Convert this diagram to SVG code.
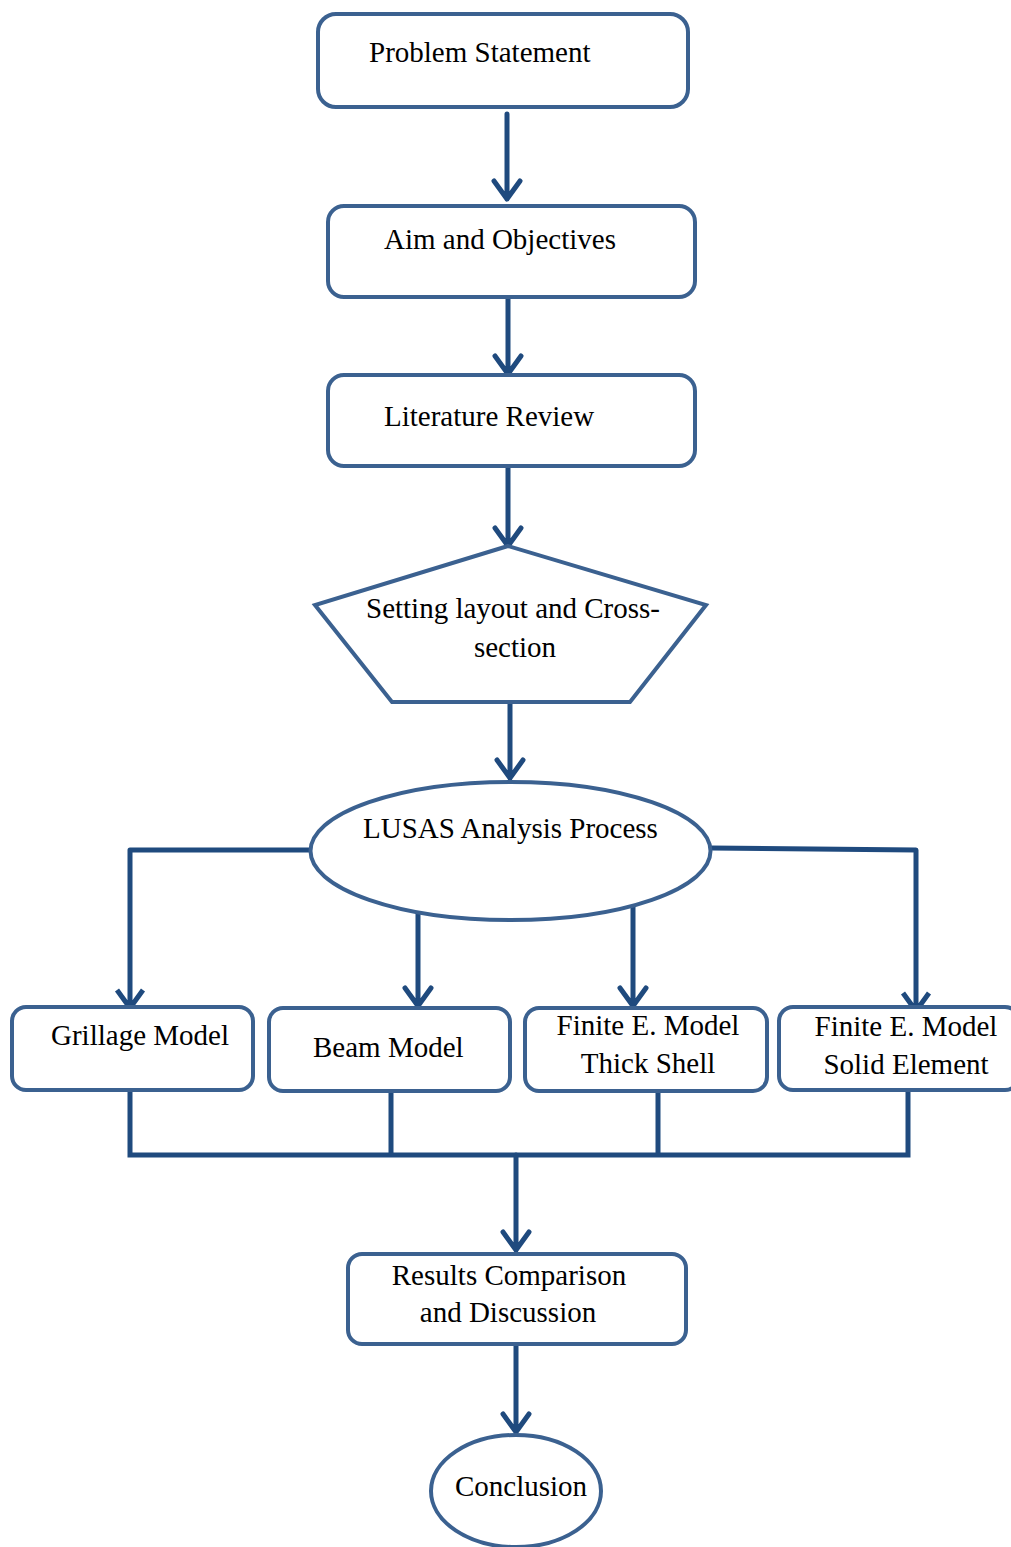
<svg xmlns="http://www.w3.org/2000/svg" width="1011" height="1547" viewBox="0 0 1011 1547">
<style>
.box{fill:#fff;stroke:#3b6190;stroke-width:4}
.ln{fill:none;stroke:#1f4a7e;stroke-width:5}
.t{font-family:"Liberation Serif","Times New Roman",serif;font-size:29px;fill:#000}
</style>
<rect width="1011" height="1547" fill="#fff"/>
<g id="connectors" class="ln" stroke-linecap="round" stroke-linejoin="round">
<path d="M507 114V199M494 181L507 199L520 181"/>
<path d="M508 292V374M495 356L508 374L521 356"/>
<path d="M508 465V546M495 528L508 546L521 528"/>
<path d="M510 695V778M497 760L510 778L523 760"/>
<path d="M310 850H130V1008M117 990L130 1008L143 990" stroke-linecap="butt"/>
<path d="M711 848L916 850V1011M903 993L916 1011L929 993" stroke-linecap="butt"/>
<path d="M418 908V1006M405 988L418 1006L431 988"/>
<path d="M633 900V1006M620 988L633 1006L646 988"/>
<path d="M130 1090V1155H908V1090M391 1091V1155M658 1091V1155" stroke-linecap="butt" stroke-linejoin="miter"/>
<path d="M516 1155V1250M503 1232L516 1250L529 1232"/>
<path d="M516 1338V1432M503 1414L516 1432L529 1414"/>
</g>
<g id="n-problem"><rect class="box" x="318" y="14" width="370" height="93" rx="18"/><text class="t" x="369" y="62">Problem Statement</text></g>
<g id="n-aim"><rect class="box" x="328" y="206" width="367" height="91" rx="16"/><text class="t" x="384" y="249">Aim and Objectives</text></g>
<g id="n-lit"><rect class="box" x="328" y="375" width="367" height="91" rx="16"/><text class="t" x="384" y="426">Literature Review</text></g>
<g id="n-layout"><polygon class="box" points="508,546 315,605 392,702 630,702 706,605"/><text class="t" x="366" y="618">Setting layout and Cross-</text><text class="t" x="515" y="657" text-anchor="middle">section</text></g>
<g id="n-lusas"><ellipse class="box" cx="510.5" cy="851" rx="200" ry="69"/><text class="t" x="363" y="838">LUSAS Analysis Process</text></g>
<g id="n-grillage"><rect class="box" x="12" y="1007" width="241" height="83" rx="14"/><text class="t" x="51" y="1045">Grillage Model</text></g>
<g id="n-beam"><rect class="box" x="269" y="1008" width="241" height="83" rx="14"/><text class="t" x="313" y="1057">Beam Model</text></g>
<g id="n-shell"><rect class="box" x="525" y="1008" width="242" height="83" rx="14"/><text class="t" x="648" y="1035" text-anchor="middle">Finite E. Model</text><text class="t" x="648" y="1073" text-anchor="middle">Thick Shell</text></g>
<g id="n-solid"><rect class="box" x="779" y="1007" width="240" height="83" rx="14"/><text class="t" x="906" y="1036" text-anchor="middle">Finite E. Model</text><text class="t" x="906" y="1074" text-anchor="middle">Solid Element</text></g>
<g id="n-results"><rect class="box" x="348" y="1254" width="338" height="90" rx="14"/><text class="t" x="509" y="1285" text-anchor="middle">Results Comparison</text><text class="t" x="508" y="1322" text-anchor="middle">and Discussion</text></g>
<g id="n-conclusion"><ellipse class="box" cx="516" cy="1491" rx="85" ry="56"/><text class="t" x="521" y="1496" text-anchor="middle">Conclusion</text></g>
</svg>
